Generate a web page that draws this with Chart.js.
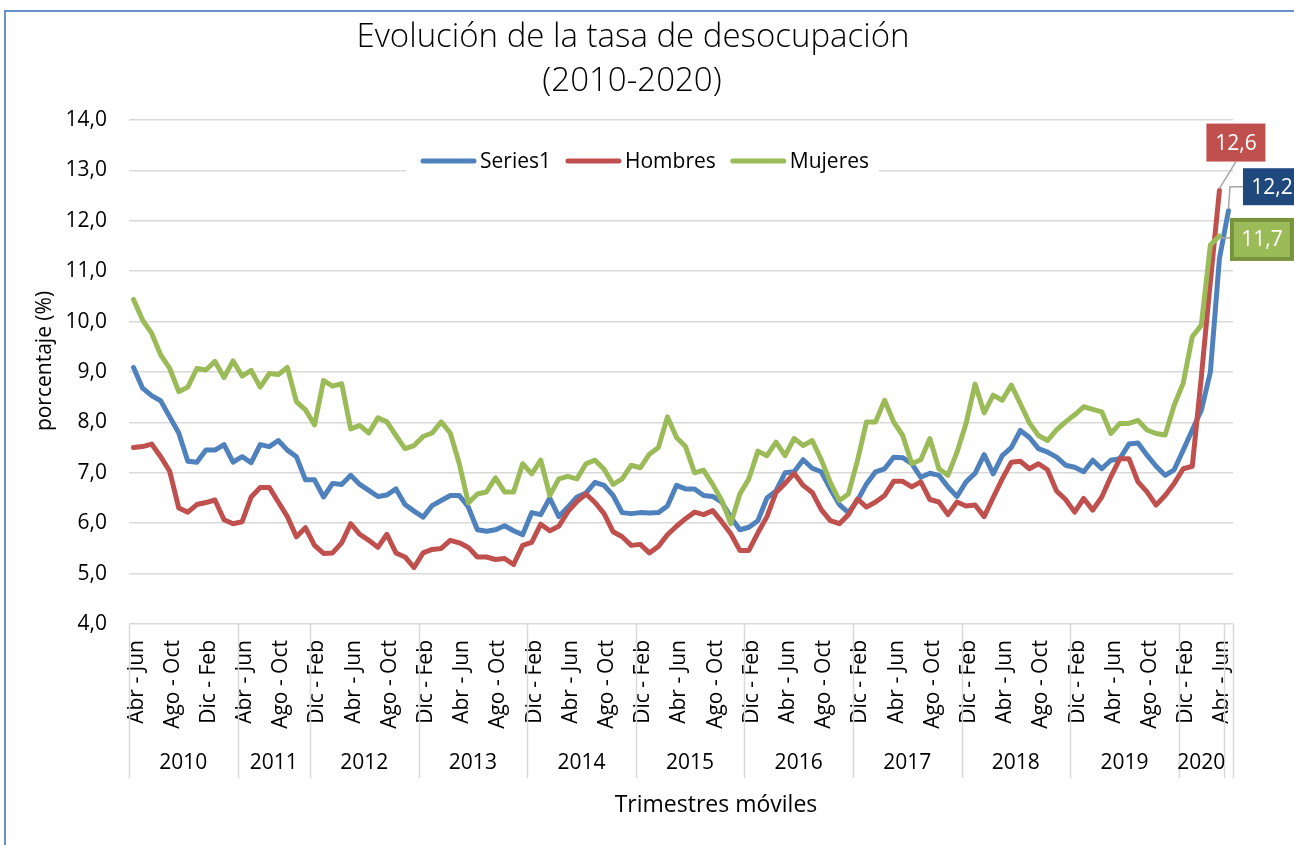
<!DOCTYPE html>
<html>
<head>
<meta charset="utf-8">
<script src="https://cdn.jsdelivr.net/npm/chart.js@4.4.1/dist/chart.umd.min.js"></script>
<style>
  html, body { margin: 0; padding: 0; background: #ffffff; overflow: hidden; }
  #frame { position: absolute; left: 4px; top: 10px; width: 1400px; height: 900px; border: 2px solid #6890c8; box-sizing: border-box; }
  #c { position: absolute; left: 0; top: 0; }
</style>
</head>
<body>
<div id="frame"></div>
<canvas id="c" width="1294" height="845"></canvas>
<script>
// ---- data ----
const monthAbbr = ['Ene','Feb','Mar','Abr','May','Jun','Jul','Ago','Sep','Oct','Nov','Dic'];
const firstStartMonth = 3; // Abr
const nCategories = 122;
const years = ['2010','2011','2012','2013','2014','2015','2016','2017','2018','2019','2020',''];
const yearSpans = [12, 8, 12, 12, 12, 12, 12, 12, 12, 12, 5, 1];
const categories = [];
for (let i = 0; i < nCategories; i++) {
  const s = (firstStartMonth + i) % 12;
  categories.push(monthAbbr[s] + ' - ' + monthAbbr[(s + 2) % 12]);
}
const yTickValues = [4,5,6,7,8,9,10,11,12,13,14];

const series1 = [
  9.09, 8.68, 8.53, 8.43, 8.11, 7.79, 7.23, 7.21, 7.45, 7.45, 7.56, 7.21,
  7.32, 7.20, 7.56, 7.52, 7.64, 7.45, 7.32, 6.86,
  6.86, 6.52, 6.79, 6.77, 6.95, 6.77, 6.65, 6.53, 6.56, 6.68, 6.37, 6.24,
  6.12, 6.35, 6.45, 6.55, 6.55, 6.32, 5.87, 5.84, 5.87, 5.95, 5.85, 5.77,
  6.21, 6.17, 6.50, 6.13, 6.32, 6.52, 6.60, 6.81, 6.75, 6.55, 6.21, 6.19,
  6.21, 6.20, 6.21, 6.34, 6.75, 6.68, 6.68, 6.55, 6.53, 6.42, 6.12, 5.87,
  5.92, 6.05, 6.50, 6.64, 7.00, 7.02, 7.26, 7.09, 7.02, 6.68, 6.37, 6.21,
  6.45, 6.78, 7.02, 7.08, 7.31, 7.30, 7.18, 6.91, 6.99, 6.95, 6.72, 6.53,
  6.82, 6.99, 7.36, 6.98, 7.34, 7.50, 7.84, 7.70, 7.48, 7.41, 7.31, 7.15,
  7.11, 7.02, 7.25, 7.08, 7.25, 7.28, 7.57, 7.59, 7.35, 7.13, 6.95, 7.06,
  7.45, 7.85, 8.24, 9.00, 11.25,
  12.2
];
const hombres = [
  7.50, 7.52, 7.57, 7.32, 7.03, 6.30, 6.22, 6.37, 6.41, 6.46, 6.07, 5.99,
  6.03, 6.52, 6.71, 6.71, 6.42, 6.13, 5.73, 5.91,
  5.56, 5.40, 5.41, 5.61, 5.99, 5.78, 5.66, 5.52, 5.78, 5.41, 5.33, 5.12,
  5.41, 5.48, 5.50, 5.66, 5.61, 5.52, 5.33, 5.33, 5.28, 5.30, 5.18, 5.56,
  5.62, 5.98, 5.85, 5.94, 6.23, 6.43, 6.58, 6.41, 6.19, 5.83, 5.73, 5.56,
  5.58, 5.41, 5.54, 5.77, 5.94, 6.09, 6.22, 6.17, 6.25, 6.03, 5.79, 5.46,
  5.46, 5.81, 6.13, 6.61, 6.79, 6.99, 6.75, 6.61, 6.27, 6.05, 5.99, 6.17,
  6.48, 6.32, 6.42, 6.55, 6.83, 6.83, 6.72, 6.82, 6.47, 6.42, 6.17, 6.42,
  6.34, 6.36, 6.13, 6.51, 6.88, 7.21, 7.23, 7.08, 7.18, 7.06, 6.64, 6.47,
  6.22, 6.49, 6.26, 6.52, 6.92, 7.28, 7.28, 6.82, 6.62, 6.36, 6.55, 6.79,
  7.08, 7.13, 8.90, 10.80, 12.6,
  null
];
const mujeres = [
  10.44, 10.03, 9.77, 9.34, 9.07, 8.61, 8.70, 9.07, 9.04, 9.21, 8.89, 9.22,
  8.92, 9.03, 8.70, 8.97, 8.95, 9.09, 8.41, 8.25,
  7.95, 8.83, 8.72, 8.77, 7.87, 7.94, 7.79, 8.09, 8.01, 7.74, 7.48, 7.54,
  7.72, 7.79, 8.01, 7.79, 7.18, 6.40, 6.58, 6.62, 6.90, 6.62, 6.62, 7.18,
  6.98, 7.25, 6.55, 6.88, 6.93, 6.88, 7.18, 7.25, 7.07, 6.77, 6.88, 7.15,
  7.10, 7.37, 7.50, 8.11, 7.70, 7.52, 7.00, 7.05, 6.77, 6.45, 5.99, 6.58,
  6.88, 7.43, 7.34, 7.61, 7.34, 7.68, 7.54, 7.64, 7.26, 6.81, 6.45, 6.58,
  7.24, 8.01, 8.01, 8.44, 8.01, 7.74, 7.18, 7.26, 7.68, 7.08, 6.95, 7.41,
  7.98, 8.76, 8.19, 8.54, 8.44, 8.74, 8.37, 7.99, 7.74, 7.64, 7.85, 8.01,
  8.15, 8.31, 8.26, 8.21, 7.78, 7.98, 7.98, 8.04, 7.85, 7.78, 7.75, 8.34,
  8.78, 9.70, 9.93, 11.52, 11.7,
  null
];
const seriesNames = ['Series1', 'Hombres', 'Mujeres'];
const endLabels = ['12,2', '12,6', '11,7'];

// ---- styles ----
const COLORS = ['#4f81bd', '#c0504d', '#9bbb59'];
const FONT = '"Open Sans", "DejaVu Sans", sans-serif';
const GRID = '#d9d9d9';

function fmt(v) { return v.toFixed(1).replace('.', ','); }

const decor = {
  id: 'decor',
  afterDraw(chart) {
    const ctx = chart.ctx;
    const xs = chart.scales.x, area = chart.chartArea;
    ctx.save();
    // title
    ctx.fillStyle = '#000';
    ctx.textAlign = 'center';
    ctx.textBaseline = 'middle';
    ctx.font = '300 33px ' + FONT;
    ctx.fillText('Evolución de la tasa de desocupación', 633, 38);
    ctx.fillText('(2010-2020)', 632, 82);

    // axis titles
    ctx.font = '23px ' + FONT;
    ctx.fillText('Trimestres móviles', 716, 805);
    ctx.font = '21px ' + FONT;
    ctx.save();
    ctx.translate(45, 361);
    ctx.rotate(-Math.PI / 2);
    ctx.fillText('porcentaje (%)', 0, 0);
    ctx.restore();

    // category groups (years)
    const step = xs.getPixelForValue(1) - xs.getPixelForValue(0);
    ctx.strokeStyle = GRID;
    ctx.lineWidth = 1.5;
    let start = 0;
    const yTop = area.bottom, yBot = 778;
    const bounds = [start];
    yearSpans.forEach(n => { start += n; bounds.push(start); });
    bounds.forEach(b => {
      const x = Math.round(xs.getPixelForValue(b) - step / 2) + 0.5;
      ctx.beginPath(); ctx.moveTo(x, yTop); ctx.lineTo(x, yBot); ctx.stroke();
    });
    ctx.fillStyle = '#000';
    ctx.font = '21px ' + FONT;
    ctx.textAlign = 'center';
    ctx.textBaseline = 'middle';
    years.forEach((yr, k) => {
      if (!yr) return;
      const x0 = xs.getPixelForValue(bounds[k]) - step / 2;
      const x1 = xs.getPixelForValue(bounds[k + 1]) - step / 2;
      ctx.fillText(yr, (x0 + x1) / 2, 763);
    });

    // legend (inside plot area)
    ctx.font = '21px ' + FONT;
    const lineLen = 55, gapTxt = 4, gapItem = 15;
    const widths = seriesNames.map(n => ctx.measureText(n).width);
    let total = 0;
    widths.forEach((w, k) => { total += lineLen + gapTxt + w + (k < widths.length - 1 ? gapItem : 0); });
    const lcx = 645, ly = 161;
    let lx = lcx - total / 2;
    ctx.fillStyle = '#fff';
    ctx.fillRect(lx - 15, ly - 14, total + 25, 28);
    ctx.textAlign = 'left';
    seriesNames.forEach((n, k) => {
      ctx.strokeStyle = COLORS[k];
      ctx.lineWidth = 5;
      ctx.lineCap = 'round';
      ctx.beginPath(); ctx.moveTo(lx + 2, ly); ctx.lineTo(lx + lineLen - 2, ly); ctx.stroke();
      ctx.fillStyle = '#000';
      ctx.fillText(n, lx + lineLen + gapTxt, ly + 1);
      lx += lineLen + gapTxt + widths[k] + gapItem;
    });
    ctx.restore();
  },
  afterDatasetsDraw(chart) {
    const ctx = chart.ctx;
    const pts = [0, 1, 2].map(d => {
      const meta = chart.getDatasetMeta(d);
      const data = chart.data.datasets[d].data;
      let last = data.length - 1;
      while (data[last] === null) last--;
      return meta.data[last];
    });
    ctx.save();
    ctx.strokeStyle = '#a6a6a6';
    ctx.lineWidth = 1.5;
    ctx.lineCap = 'butt';
    ctx.font = '21px ' + FONT;
    ctx.textAlign = 'center';
    ctx.textBaseline = 'middle';
    // Hombres (red)
    {
      const p = pts[1];
      const cx = p.x + 16.5, cy = p.y - 48, w = 59, h = 38;
      ctx.beginPath(); ctx.moveTo(cx, cy + h / 2); ctx.lineTo(p.x, p.y - 2); ctx.stroke();
      ctx.fillStyle = COLORS[1];
      ctx.fillRect(cx - w / 2, cy - h / 2, w, h);
      ctx.fillStyle = '#fff';
      ctx.fillText(endLabels[1], cx, cy + 1);
    }
    // Series1 (blue)
    {
      const p = pts[0];
      const bx = p.x + 14.5, cy = p.y - 24, w = 60, h = 37;
      ctx.beginPath(); ctx.moveTo(p.x, p.y - 2); ctx.lineTo(p.x + 1.5, cy); ctx.lineTo(bx, cy); ctx.stroke();
      ctx.fillStyle = '#1f497d';
      ctx.fillRect(bx, cy - h / 2, w, h);
      ctx.fillStyle = '#fff';
      ctx.fillText(endLabels[0], bx + 29, cy + 1);
    }
    // Mujeres (green)
    {
      const p = pts[2];
      const bx = p.x + 12.5, cy = p.y + 3.5, w = 60, h = 39;
      ctx.beginPath(); ctx.moveTo(p.x + 1, cy - 1.5); ctx.lineTo(bx, cy - 1.5); ctx.stroke();
      ctx.fillStyle = '#9bbb59';
      ctx.fillRect(bx, cy - h / 2, w, h);
      ctx.strokeStyle = '#77933c';
      ctx.lineWidth = 4;
      ctx.strokeRect(bx, cy - h / 2, w, h);
      ctx.fillStyle = '#fff';
      ctx.fillText(endLabels[2], bx + w / 2, cy + 1);
    }
    ctx.restore();
  }
};

const mkDs = (label, data, color, order) => ({
  label, data, borderColor: color, backgroundColor: color, borderWidth: 5,
  pointRadius: 0, pointHoverRadius: 0, tension: 0, fill: false, spanGaps: false,
  borderJoinStyle: 'round', borderCapStyle: 'round', order
});

new Chart(document.getElementById('c'), {
  type: 'line',
  data: {
    labels: categories,
    datasets: [
      mkDs(seriesNames[0], series1, COLORS[0], 2),
      mkDs(seriesNames[1], hombres, COLORS[1], 1),
      mkDs(seriesNames[2], mujeres, COLORS[2], 0)
    ]
  },
  options: {
    responsive: false,
    animation: false,
    devicePixelRatio: 1,
    layout: { padding: { top: 120, right: 61, left: 0, bottom: 0 } },
    plugins: { legend: { display: false }, title: { display: false }, tooltip: { enabled: false } },
    scales: {
      x: {
        type: 'category',
        offset: true,
        grid: { display: false, drawTicks: false },
        border: { display: false },
        ticks: {
          autoSkip: false, minRotation: 90, maxRotation: 90, padding: 16, labelOffset: 3,
          color: '#000', font: { family: FONT, size: 21 },
          callback: (v, i) => (i % 4 === 0 ? categories[i] : '')
        },
        afterFit: s => { s.height = 221; }
      },
      y: {
        min: yTickValues[0], max: yTickValues[yTickValues.length - 1],
        afterBuildTicks: s => { s.ticks = yTickValues.map(v => ({ value: v })); },
        grid: { color: GRID, lineWidth: 1.5, drawTicks: false },
        border: { display: false },
        ticks: { padding: 22, color: '#000', font: { family: FONT, size: 21 }, callback: v => fmt(v) },
        afterFit: s => { s.width = 129; }
      }
    }
  },
  plugins: [decor]
});
</script>
</body>
</html>
